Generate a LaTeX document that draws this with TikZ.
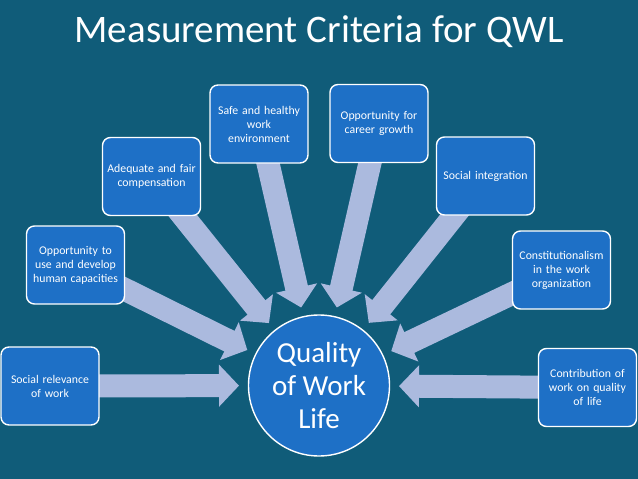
\documentclass[tikz,border=0pt]{standalone}
\usepackage{fontspec}
\setmainfont{Carlito}
\usetikzlibrary{arrows.meta,calc,backgrounds}
\definecolor{bgteal}{RGB}{16,92,121}
\definecolor{boxblue}{RGB}{30,112,198}
\definecolor{arrowblue}{RGB}{171,186,222}
\begin{document}
\begin{tikzpicture}[x=1pt,y=-1pt,
 box/.style={draw=white, line width=1.4pt, fill=boxblue, rounded corners=8pt,
   minimum width=98pt, minimum height=78pt, text width=96pt, align=center,
   text=white, inner sep=1pt, font=\fontsize{11.8}{14}\selectfont},
 blockarrow/.style={draw=arrowblue, line width=23pt, -{Triangle[width=41pt,length=20pt]}}]
\useasboundingbox (0,0) rectangle (638,479);
\node[text=white, font=\fontsize{39}{44}\selectfont] (title) at (319,32) {Measurement Criteria for QWL};
\node[circle, draw=white, line width=1.4pt, fill=boxblue, minimum size=141pt, inner sep=0pt,
  align=center, text=white, font=\fontsize{29}{33}\selectfont] (q) at (319,385.5) {Quality\\of Work\\Life};
\node[box] (b1) at (50,386) {Social relevance\\of work};
\node[box] (b2) at (75.5,265) {Opportunity to\\use and develop\\human capacities};
\node[box] (b3) at (151.5,176.5) {Adequate and fair\\compensation};
\node[box] (b4) at (259,124) {Safe and healthy\\work\\environment};
\node[box] (b5) at (379,123.5) {Opportunity for\\career growth};
\node[box] (b6) at (485.5,176) {Social integration};
\node[box] (b7) at (561.5,270) {Constitutionalism\\in the work\\organization};
\node[box] (b8) at (587.5,387.5) {Contribution of\\work on quality\\of life};
\foreach \n in {1,...,8} \coordinate (t\n) at ($(q.center)!80pt!(b\n.center)$);
\begin{scope}[on background layer]
\fill[bgteal] (0,0) rectangle (638,479);
\foreach \n in {1,...,8} \draw[blockarrow] (b\n.center) -- (t\n);
\end{scope}
\end{tikzpicture}
\end{document}
